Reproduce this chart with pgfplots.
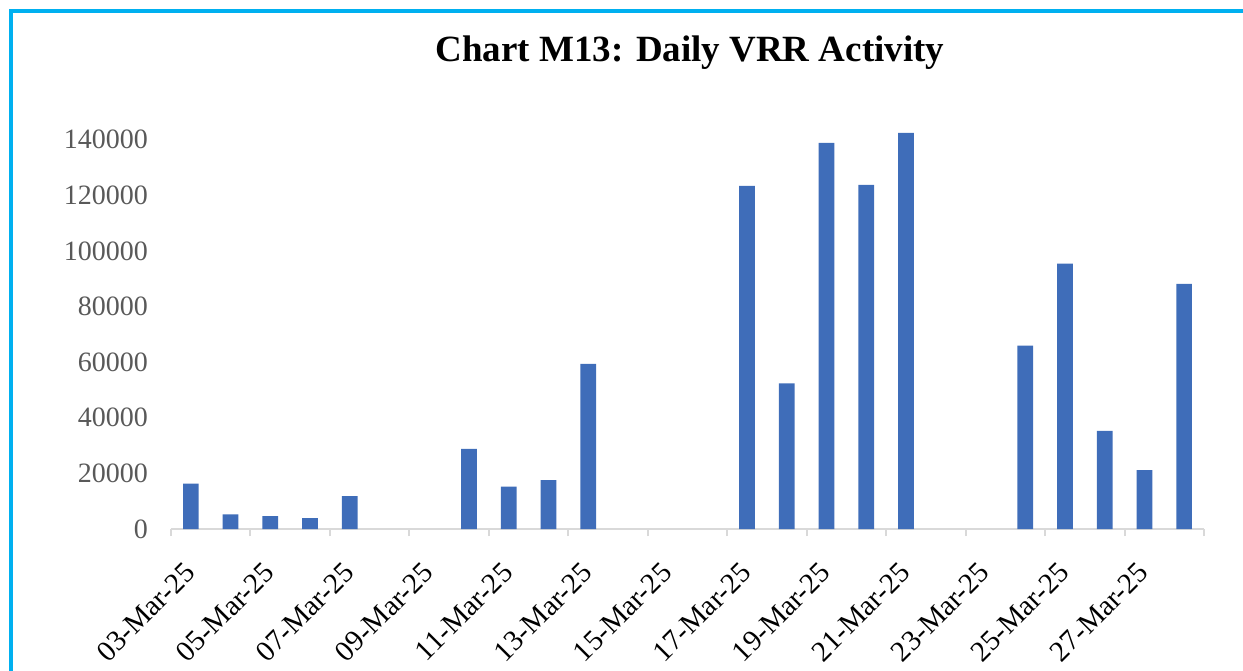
\documentclass[border=0pt]{standalone}
\usepackage{fontspec}
\setmainfont{Liberation Serif}
\usepackage{pgfplots}
\usepackage{pgfplotstable}
\pgfplotsset{compat=1.18}

\definecolor{barblue}{HTML}{3F6DB9}
\definecolor{axisgray}{HTML}{D9D9D9}
\definecolor{labelgray}{HTML}{595959}
\definecolor{frameblue}{HTML}{00B0F0}

% day index (0 = 03-Mar-25) and daily VRR amount
\pgfplotstableread{
day value
0  16300
1  5300
2  4600
3  3900
4  11800
5  0
6  0
7  28800
8  15200
9  17600
10 59400
11 0
12 0
13 0
14 123400
15 52400
16 138900
17 123800
18 142500
19 0
20 0
21 66000
22 95500
23 35300
24 21200
25 88200
}\vrrdata

\begin{document}
\begin{tikzpicture}
\begin{axis}[
    scale only axis,
    width=516.5pt, height=208.5pt,
    xmin=-0.5, xmax=25.5,
    ymin=0, ymax=150000,
    ybar, bar width=7.85pt,
    axis x line*=bottom, axis y line*=left,
    y axis line style={draw=none},
    x axis line style={draw=axisgray, line width=1pt, -},
    tick align=outside,
    major tick length=0pt,
    minor tick length=3.5pt,
    xtick={0,2,...,24},
    xticklabels={03-Mar-25,05-Mar-25,07-Mar-25,09-Mar-25,11-Mar-25,13-Mar-25,15-Mar-25,17-Mar-25,19-Mar-25,21-Mar-25,23-Mar-25,25-Mar-25,27-Mar-25},
    minor xtick={-0.5,1.5,3.5,5.5,7.5,9.5,11.5,13.5,15.5,17.5,19.5,21.5,23.5,25.5},
    minor x tick style={draw=axisgray, line width=1pt},
    ytick={0,20000,...,140000},
    scaled y ticks=false,
    /pgf/number format/assume math mode=true,
    /pgf/number format/fixed,
    /pgf/number format/1000 sep={},
    xticklabel style={font=\fontsize{14.5}{16}\selectfont, text=black,
        xshift=2pt, yshift=-17pt, rotate=45, anchor=east},
    yticklabel style={font=\fontsize{14}{16}\selectfont, text=labelgray, xshift=-8pt},
]
\addplot[fill=barblue, draw=none, y filter/.expression={y==0 ? nan : y},
    unbounded coords=discard] table[x=day, y=value] {\vrrdata};
\end{axis}
\node[font=\fontsize{18.5}{21}\selectfont\bfseries, anchor=base] at (259.5pt,233.5pt) {Chart M13: Daily VRR Activity};
\pgfresetboundingbox
\path[use as bounding box] (-85.5pt,-70.5pt) rectangle (536pt,264.5pt);
\draw[frameblue, line width=1.8pt] (-80pt,-100pt) -- (-80pt,259pt) -- (600pt,259pt);
\end{tikzpicture}
\end{document}
